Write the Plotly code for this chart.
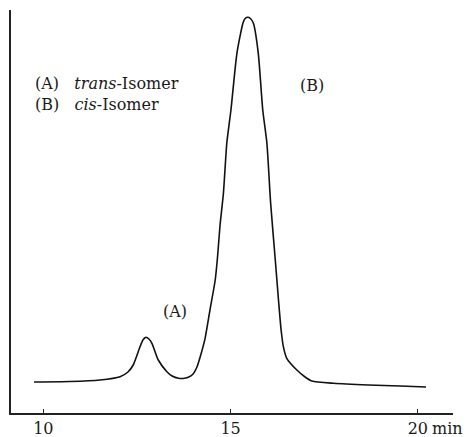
import plotly.graph_objects as go

# Retention time (min) and detector response (arbitrary units)
time_min = [9.75, 10.71, 11.51, 12.05, 12.26, 12.40, 12.58, 12.66, 12.74, 12.82, 12.90,
            13.07, 13.30, 13.44, 13.61, 13.73, 13.87, 14.00, 14.10, 14.19, 14.32, 14.45,
            14.59, 14.65, 14.72, 14.81, 14.90, 15.01, 15.17, 15.33, 15.39, 15.46, 15.53,
            15.61, 15.74, 15.86, 15.97, 16.07, 16.19, 16.28, 16.35, 16.41, 16.50, 16.77,
            16.99, 17.17, 17.75, 18.68, 19.53, 20.22]
response = [31, 31.5, 33, 36.3, 41, 48, 66, 73, 75.7, 74, 69.7,
            53, 41.3, 37, 34.7, 34.5, 35.7, 39, 45.7, 56.3, 74.7, 103,
            133, 155, 188, 220, 270, 303, 359.7, 389.7, 394.5, 395.7, 394.5,
            389.7, 359.7, 303, 270, 210, 155, 113, 83, 66.3, 54.7, 43,
            36, 32, 29.7, 28, 27, 26]

tick_vals = [10, 15, 20]
tick_text = ["10", "15", "20"]

FONT = "DejaVu Serif"

fig = go.Figure()
fig.add_trace(go.Scatter(
    x=time_min, y=response, mode="lines",
    line=dict(color="#111111", width=1.6, shape="spline", smoothing=0.6),
    hoverinfo="skip", showlegend=False,
))

fig.update_layout(
    template="none",
    width=467, height=437,
    margin=dict(l=11, r=14, t=10, b=24, autoexpand=False),
    paper_bgcolor="white", plot_bgcolor="white",
    showlegend=False,
    font=dict(family=FONT, size=16, color="#1a1a1a"),
    xaxis=dict(
        range=[9.137, 20.94], showgrid=False, zeroline=False, automargin=False,
        showline=True, linecolor="#222222", linewidth=1.6,
        ticks="inside", ticklen=4, tickwidth=1.2, tickcolor="#222222",
        tickvals=tick_vals, ticktext=tick_text,
        tickfont=dict(family=FONT, size=16, color="#1a1a1a"),
    ),
    yaxis=dict(
        range=[0, 403], showgrid=False, zeroline=False, automargin=False,
        showline=True, linecolor="#222222", linewidth=1.6,
        showticklabels=False, ticks="",
    ),
)

annotations = [
    dict(x=20, y=0, text="min", xshift=12, yshift=-15, xanchor="left", yanchor="middle"),
    dict(x=9.73, y=319.5,
         text="(A)&nbsp;&nbsp; <i>trans</i>-Isomer<br>(B)&nbsp;&nbsp; <i>cis</i>-Isomer",
         xanchor="left", yanchor="middle", align="left"),
    dict(x=17.17, y=328, text="(B)", xanchor="center", yanchor="middle"),
    dict(x=13.52, y=102, text="(A)", xanchor="center", yanchor="middle"),
]
for a in annotations:
    a.update(xref="x", yref="y", showarrow=False,
             font=dict(family=FONT, size=16, color="#1a1a1a"))
    fig.add_annotation(**a)

fig.write_html("out.html")
